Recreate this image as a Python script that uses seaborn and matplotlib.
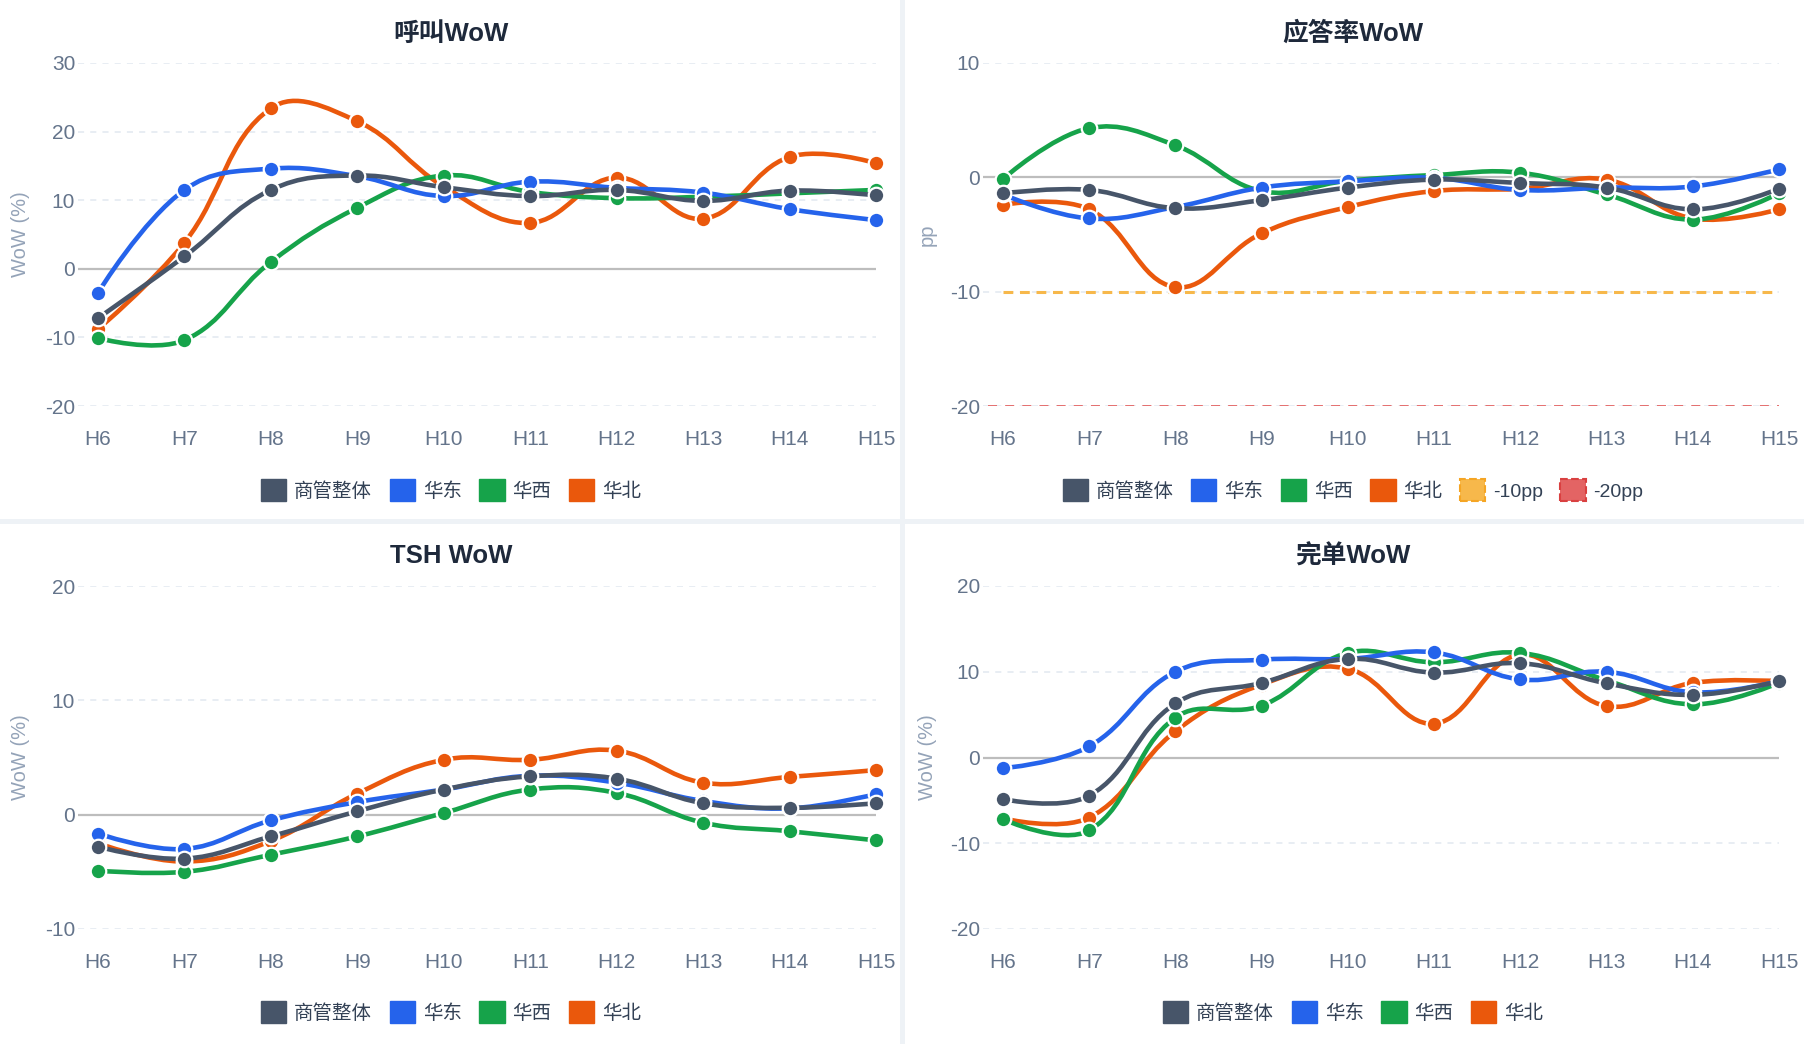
import numpy as np
import pandas as pd
import matplotlib
matplotlib.use("Agg")
import matplotlib.pyplot as plt
import seaborn as sns
from matplotlib.path import Path
from matplotlib.patches import PathPatch, Patch, Rectangle

# ---------------- data ----------------
hours = ["H6", "H7", "H8", "H9", "H10", "H11", "H12", "H13", "H14", "H15"]
series_names = ["商管整体", "华东", "华西", "华北"]
series_colors = ["#475569", "#2563eb", "#16a34a", "#ea580c"]

call_overall = [-7.2, 1.8, 11.5, 13.6, 11.9, 10.6, 11.5, 9.9, 11.4, 10.7]
call_east = [-3.5, 11.5, 14.6, 13.5, 10.6, 12.7, 11.8, 11.1, 8.7, 7.1]
call_west = [-10.1, -10.4, 1.0, 8.9, 13.6, 11.2, 10.3, 10.5, 11.0, 11.5]
call_north = [-8.8, 3.8, 23.4, 21.5, 12.0, 6.7, 13.3, 7.3, 16.3, 15.4]

answer_overall = [-1.4, -1.1, -2.7, -2.0, -0.9, -0.2, -0.5, -0.9, -2.8, -1.0]
answer_east = [-1.5, -3.6, -2.6, -0.9, -0.35, -0.05, -1.1, -0.9, -0.8, 0.7]
answer_west = [-0.15, 4.3, 2.8, -1.2, -0.3, 0.2, 0.4, -1.5, -3.7, -1.4]
answer_north = [-2.4, -2.8, -9.6, -4.9, -2.6, -1.2, -1.0, -0.2, -3.6, -2.8]

answer_thresholds = [-10, -20]
threshold_labels = ["-10pp", "-20pp"]
threshold_colors = ["#f7b84b", "#e36464"]

tsh_overall = [-2.8, -3.85, -1.9, 0.3, 2.2, 3.35, 3.15, 1.0, 0.6, 1.0]
tsh_east = [-1.65, -3.0, -0.5, 1.1, 2.2, 3.4, 2.8, 1.2, 0.55, 1.8]
tsh_west = [-4.9, -5.0, -3.5, -1.9, 0.15, 2.2, 1.9, -0.7, -1.45, -2.25]
tsh_north = [-2.5, -4.1, -2.3, 1.85, 4.8, 4.8, 5.6, 2.8, 3.3, 3.9]

done_overall = [-4.85, -4.45, 6.3, 8.7, 11.5, 9.9, 11.0, 8.65, 7.3, 8.9]
done_east = [-1.25, 1.3, 10.0, 11.4, 11.5, 12.25, 9.1, 10.0, 7.6, 8.9]
done_west = [-7.2, -8.5, 4.65, 6.05, 12.2, 11.1, 12.2, 9.0, 6.2, 8.7]
done_north = [-7.1, -7.0, 3.06, 8.5, 10.35, 3.95, 12.0, 6.0, 8.7, 8.9]

charts = [
    dict(title="呼叫WoW", ylabel="WoW (%)", ylim=(-20, 30), ticks=[-20, -10, 0, 10, 20, 30],
         data=[call_overall, call_east, call_west, call_north], thresholds=False),
    dict(title="应答率WoW", ylabel="pp", ylim=(-20, 10), ticks=[-20, -10, 0, 10],
         data=[answer_overall, answer_east, answer_west, answer_north], thresholds=True),
    dict(title="TSH WoW", ylabel="WoW (%)", ylim=(-10, 20), ticks=[-10, 0, 10, 20],
         data=[tsh_overall, tsh_east, tsh_west, tsh_north], thresholds=False),
    dict(title="完单WoW", ylabel="WoW (%)", ylim=(-20, 20), ticks=[-20, -10, 0, 10, 20],
         data=[done_overall, done_east, done_west, done_north], thresholds=False),
]

# ---------------- style ----------------
sns.set_theme(style="white")
plt.rcParams["font.family"] = ["Liberation Sans", "Noto Sans CJK SC", "DejaVu Sans"]

W, H = 1804, 1044
fig = plt.figure(figsize=(W / 100, H / 100), dpi=100)
fig.patch.set_facecolor("white")

# panel separators
fig.add_artist(Rectangle((900 / W, 0), 5 / W, 1, transform=fig.transFigure,
                         facecolor="#eef2f6", edgecolor="none", zorder=0))
fig.add_artist(Rectangle((0, 1 - 524 / H), 1, 5 / H, transform=fig.transFigure,
                         facecolor="#eef2f6", edgecolor="none", zorder=0))

step = (876 - 98) / 9.0
x_left_pad = 20 / step


def smooth_path(ax, xs, ys, smooth=0.4):
    pts = ax.transData.transform(np.column_stack([xs, ys]))
    n = len(pts)
    cp_next, cp_prev = [], []
    for i in range(n):
        cur = pts[i]
        if i == 0 or i == n - 1:
            cp_next.append(cur.copy())
            cp_prev.append(cur.copy())
            continue
        prv = pts[i - 1]
        nxt = pts[i + 1]
        v = (nxt - prv) * smooth
        d0 = np.hypot(*(cur - prv))
        d1 = np.hypot(*(nxt - cur))
        s = d0 + d1
        r = d1 / s if s > 0 else 0.0
        cp_next.append(cur + v * r)
        cp_prev.append(cur - v * (1 - r))
    verts = [pts[0]]
    codes = [Path.MOVETO]
    for i in range(n - 1):
        verts += [cp_next[i], cp_prev[i + 1], pts[i + 1]]
        codes += [Path.CURVE4] * 3
    verts = ax.transData.inverted().transform(np.array(verts))
    return Path(verts, codes)


# panel geometry in pixels: (axes left, axes right, axes top, axes bottom, panel center x, panel top y)
geoms = [
    (78, 876, 63, 406, 451, 0),
    (983, 1779, 63, 406, 1353, 0),
    (78, 876, 586, 929, 451, 522),
    (983, 1779, 586, 929, 1353, 522),
]
ylabel_x = [21, 927, 21, 927]

xs = np.arange(len(hours))

for ci, (chart, g) in enumerate(zip(charts, geoms)):
    l, r, t, b, pcx, pty = g
    ax = fig.add_axes([l / W, 1 - b / H, (r - l) / W, (b - t) / H])
    ax.set_facecolor("none")
    ax.set_xlim(-x_left_pad, len(hours) - 1)
    ax.set_ylim(*chart["ylim"])
    ax.set_yticks(chart["ticks"])
    ax.set_yticklabels([str(v) for v in chart["ticks"]])
    ax.set_xticks(xs)
    ax.set_xticklabels(hours)
    for sp in ax.spines.values():
        sp.set_visible(False)
    ax.tick_params(axis="both", length=0, labelsize=15, colors="#64748b")
    ax.tick_params(axis="y", pad=2)
    ax.tick_params(axis="x", pad=17)
    # dashed grid (not at zero)
    for tv in chart["ticks"]:
        if tv != 0:
            ax.axhline(tv, color="#e2e8f0", lw=1.1, linestyle=(0, (4, 4)), zorder=0.5)
    ax.axhline(0, color="#bdbdbd", lw=1.6, zorder=0.6)

    if chart["thresholds"]:
        ax.hlines(answer_thresholds[0], xs[0], xs[-1], colors=threshold_colors[0],
                  lw=2.2, linestyles=[(0, (3.2, 2.2))], zorder=0.8)
        ax.hlines(answer_thresholds[1], xs[0] - 0.17, xs[-1], colors=threshold_colors[1],
                  lw=1.3, linestyles=[(0, (5, 4.5))], zorder=0.8)

    # draw series: 华北 first, 商管整体 last (on top)
    order = [3, 2, 1, 0]
    for k, si in enumerate(order):
        vals = chart["data"][si]
        col = series_colors[si]
        z = 2 + k * 2
        p = smooth_path(ax, xs, vals)
        ax.add_patch(PathPatch(p, facecolor="none", edgecolor=col, lw=3.3,
                               capstyle="round", joinstyle="round", zorder=z, clip_on=False))
        df = pd.DataFrame({"hour": xs, "value": vals})
        sns.scatterplot(data=df, x="hour", y="value", ax=ax, color=col, s=125,
                        edgecolor="white", linewidth=1.6, zorder=z + 1, clip_on=False,
                        legend=False)
    ax.set_xlabel("")
    ax.set_ylabel("")

    # title
    fig.text(pcx / W, 1 - (pty + 34) / H, chart["title"], ha="center", va="center",
             fontsize=18.5, fontweight="bold", color="#1e293b")
    # y label
    fig.text(ylabel_x[ci] / W, 1 - ((t + b) / 2) / H, chart["ylabel"], rotation=90,
             ha="center", va="center", fontsize=14.5, color="#94a3b8")

    # legend
    handles = [Patch(facecolor=c, edgecolor=c) for c in series_colors]
    labels = list(series_names)
    if chart["thresholds"]:
        handles += [
            Patch(facecolor=threshold_colors[0], edgecolor="#f5a524", linestyle="--", linewidth=1.5),
            Patch(facecolor=threshold_colors[1], edgecolor="#d94040", linestyle="--", linewidth=1.5),
        ]
        labels += threshold_labels
    leg = fig.legend(handles, labels, loc="center",
                     bbox_to_anchor=(pcx / W, 1 - (pty + 490) / H), ncol=len(labels),
                     frameon=False, fontsize=14, handlelength=1.3, handleheight=1.3,
                     handletextpad=0.4, columnspacing=0.9, borderaxespad=0)
    for txt in leg.get_texts():
        txt.set_color("#334155")

fig.savefig("out.png", dpi=100, facecolor="white")
